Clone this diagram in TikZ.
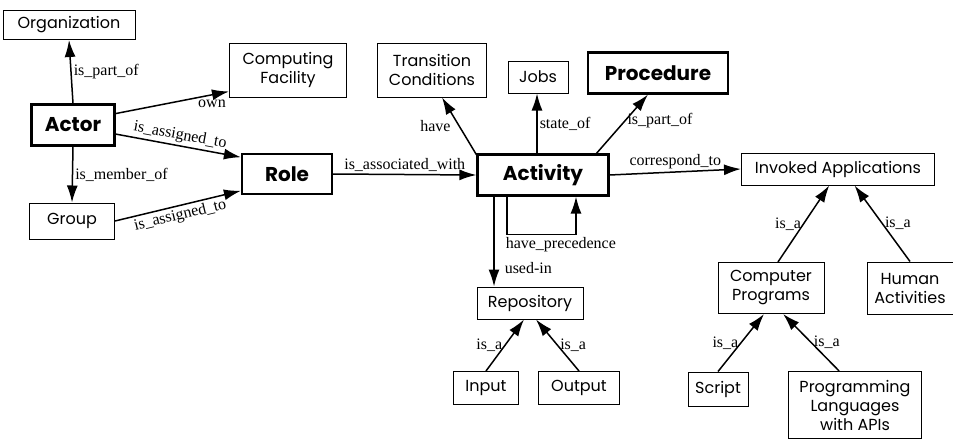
\documentclass[tikz,border=0pt]{standalone}
\usepackage{fontspec}
\setmainfont{Liberation Serif}
\newfontfamily\boxfont{Poppins}
\usetikzlibrary{arrows.meta}
\begin{document}
\begin{tikzpicture}[x=1pt,y=-1pt,
		concept/.style={draw,line width=1pt,align=center,inner sep=0pt,font=\boxfont\fontsize{16}{19}\selectfont},
		key/.style={concept,line width=2.2pt,font=\boxfont\bfseries\fontsize{20}{22}\selectfont},
		rel/.style={-{Latex[length=17pt,width=11pt]},line width=1.5pt},
		lbl/.style={font=\fontsize{16}{18}\selectfont,inner sep=2pt}
	]
	\useasboundingbox (0,0) rectangle (953,439);
	% actor side
	\node[concept,minimum width=132pt,minimum height=29pt] (O) at (69,25) {Organization};
	\node[concept,minimum width=117pt,minimum height=54pt] (F) at (288,70) {Computing\\Facility};
	\node[key,minimum width=83pt,minimum height=41pt] (A) at (73,125) {Actor};
	\node[concept,minimum width=85pt,minimum height=36pt] (G) at (72,221) {Group};
	\node[key,minimum width=90pt,minimum height=40pt] (R) at (287,174) {Role};
	% activity and its neighbours
	\node[concept,minimum width=109pt,minimum height=54pt] (T) at (432,70) {Transition\\Conditions};
	\node[concept,minimum width=60pt,minimum height=32pt] (J) at (538,77) {Jobs};
	\node[key,minimum width=140pt,minimum height=41pt] (P) at (658,73) {Procedure};
	\node[key,minimum width=131pt,minimum height=41pt] (C) at (543,175) {Activity};
	\node[concept,minimum width=106pt,minimum height=32pt] (D) at (530,303) {Repository};
	\node[concept,minimum width=65pt,minimum height=33pt] (In) at (486,388) {Input};
	\node[concept,minimum width=81pt,minimum height=33pt] (Out) at (579,388) {Output};
	% applications
	\node[concept,minimum width=193pt,minimum height=32pt] (I) at (838,169) {Invoked Applications};
	\node[concept,minimum width=106pt,minimum height=51pt] (CP) at (771,288) {Computer\\Programs};
	\node[concept,minimum width=86pt,minimum height=52pt] (H) at (910,288) {Human\\Activities};
	\node[concept,minimum width=60pt,minimum height=34pt] (S) at (718,389) {Script};
	\node[concept,minimum width=133pt,minimum height=67pt] (L) at (855,405) {Programming\\Languages\\with APIs};

	\draw[rel] (A.north) -- node[lbl,right] {is\_part\_of} (O.south);
	\draw[rel] (A.15) -- node[lbl,below,pos=0.85,yshift=-2pt] {own} (F.200);
	\draw[rel] (A.-12) -- node[lbl,sloped,above] {is\_assigned\_to} (R.160);
	\draw[rel] (A.south) -- node[lbl,right] {is\_member\_of} (G.north);
	\draw[rel] (G.east) -- node[lbl,sloped,below] {is\_assigned\_to} (R.200);
	\draw[rel] (R.east) -- node[lbl,above] {is\_associated\_with} (C.west);
	\draw[rel] (C.163) -- node[lbl,left,pos=0.5,xshift=-6pt] {have} (T.-70);
	\draw[rel] (C.north) ++(-6,0) coordinate (cj) -- node[lbl,right] {state\_of} (cj |- J.south);
	\draw[rel] (C.22) -- node[lbl,right,pos=0.55] {is\_part\_of} (P.-115);
	\draw[rel] (C.east) -- node[lbl,above] {correspond\_to} (I.west);
	\coordinate (pa) at ([xshift=-36pt]C.south);
	\coordinate (pb) at ([xshift=33pt]C.south);
	\draw[rel] (pa) -- ++(0,38) node[lbl,below right,xshift=-4pt] {have\_precedence} -| (pb);
	\draw[rel] ([xshift=-49pt]C.south) -- node[lbl,right,pos=0.8,xshift=8pt] {used-in} ([xshift=-49pt]C.south |- D.north);
	\draw[rel] (In.north) -- node[lbl,left] {is\_a} (D.-110);
	\draw[rel] (Out.north) -- node[lbl,right] {is\_a} (D.-70);
	\draw[rel] (CP.75) -- node[lbl,left] {is\_a} (I.-118);
	\draw[rel] (H.north) -- node[lbl,right] {is\_a} (I.-45);
	\draw[rel] (S.north) -- node[lbl,left] {is\_a} (CP.-105);
	\draw[rel] (L.115) -- node[lbl,right] {is\_a} (CP.-65);
\end{tikzpicture}
\end{document}
